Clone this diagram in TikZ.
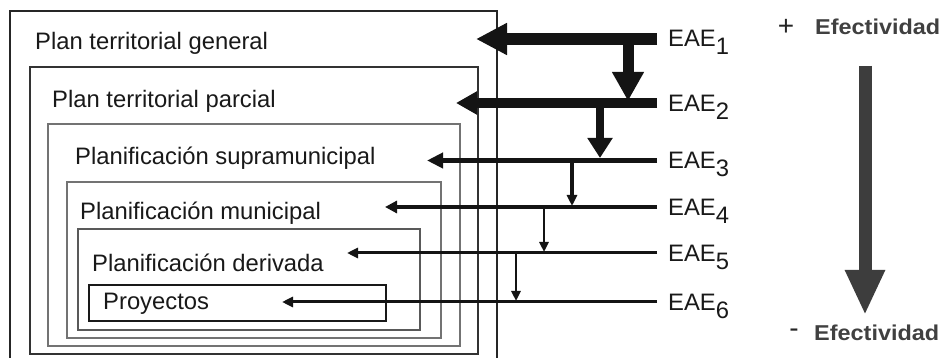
\documentclass[tikz,border=0pt]{standalone}
\usepackage{fontspec}
\setmainfont{Liberation Sans}
\usetikzlibrary{arrows.meta}
\begin{document}
\begin{tikzpicture}[x=1pt,y=-1pt,
  box/.style={draw=black!75, line width=1.4pt},
  lbl/.style={anchor=base west, inner sep=0pt, font=\fontsize{23.8}{26}\selectfont, text=black!90},
  eae/.style={anchor=base west, inner sep=0pt, font=\fontsize{23.8}{26}\selectfont, text=black!90},
  eff/.style={anchor=base west, inner sep=0pt, font=\fontsize{21.5}{24}\selectfont\bfseries, text=black!75},
  sgn/.style={anchor=center, inner sep=0pt, font=\fontsize{28}{30}\selectfont, text=black!85},
  arr/.style args={#1/#2/#3}{draw=black!92, line width=#1pt, line cap=butt,
     -{Triangle[length=#2pt,width=#3pt]}},
]
\useasboundingbox (0,0) rectangle (943,358);
\fill[white] (0,0) rectangle (943,358);
% nested boxes
\draw[box,draw=black!85] (10,358) -- (10,11) -- (497,11) -- (497,358);
\draw[box,draw=black!80] (30,67) rectangle (478,354);
\draw[box,draw=black!55,line width=1.8pt] (48,124) rectangle (460,346);
\draw[box,draw=black!55,line width=1.8pt] (67,182) rectangle (441,338);
\draw[box,draw=black!65,line width=1.6pt] (78,229) rectangle (420,330);
\draw[box,draw=black!90,line width=1.2pt] (89,285) rectangle (386,321);
% box labels
\node[lbl] (pg) at (35,50) {Plan territorial general};
\node[lbl] (pp) at (52,108) {Plan territorial parcial};
\node[lbl] (ps) at (75,165) {Planificación supramunicipal};
\node[lbl] (pm) at (80,220) {Planificación municipal};
\node[lbl] (pd) at (92,272) {Planificación derivada};
\node[lbl] (pr) at (103,309) {Proyectos};
% EAE labels
\node[eae] (e1) at (668,47) {EAE\raisebox{-8pt}{1}};
\node[eae] (e2) at (668,112) {EAE\raisebox{-8pt}{2}};
\node[eae] (e3) at (668,169) {EAE\raisebox{-8pt}{3}};
\node[eae] (e4) at (668,216) {EAE\raisebox{-8pt}{4}};
\node[eae] (e5) at (668,262) {EAE\raisebox{-8pt}{5}};
\node[eae] (e6) at (668,311) {EAE\raisebox{-8pt}{6}};
% line starts and tips
\coordinate (s1) at (657,39);   \coordinate (t1) at (476,39);
\coordinate (s2) at (657,103);  \coordinate (t2) at (456,103);
\coordinate (s3) at (657,160.5);\coordinate (t3) at (427,160.5);
\coordinate (s4) at (657,207);  \coordinate (t4) at (385,207);
\coordinate (s5) at (657,253);  \coordinate (t5) at (347,253);
\coordinate (s6) at (657,302);  \coordinate (t6) at (282,302);
% vertical connectors
\coordinate (v1a) at (628,39);  \coordinate (v1b) at (628,101);
\coordinate (v2a) at (600,103); \coordinate (v2b) at (600,158);
\coordinate (v3a) at (572,160); \coordinate (v3b) at (572,206);
\coordinate (v4a) at (544,207); \coordinate (v4b) at (544,252);
\coordinate (v5a) at (516,253); \coordinate (v5b) at (516,301);
\draw[arr=12/31/30] (s1) -- (t1);
\draw[arr=10/21/22] (s2) -- (t2);
\draw[arr=5/16/15] (s3) -- (t3);
\draw[arr=4/12/12] (s4) -- (t4);
\draw[arr=3/11/10] (s5) -- (t5);
\draw[arr=3/11/10] (s6) -- (t6);
\draw[arr=11/29/30] (v1a) -- (v1b);
\draw[arr=8/20/24] (v2a) -- (v2b);
\draw[arr=3.5/11/10] (v3a) -- (v3b);
\draw[arr=2.5/10/9] (v4a) -- (v4b);
\draw[arr=2.5/10/9] (v5a) -- (v5b);
% effectiveness scale
\node[sgn] (plus) at (786,27) {+};
\node[eff] (ef1) at (815,35) {\scalebox{1.09}[1]{Efectividad}};
\node[sgn] (minus) at (794,333) {-};
\node[eff] (ef2) at (814,340) {\scalebox{1.09}[1]{Efectividad}};
\coordinate (g1) at (865,66); \coordinate (g2) at (865,315);
\draw[draw=black!76, line width=13pt, line cap=butt,
  -{Triangle[length=45pt,width=37pt]}] (g1) -- (g2);
\end{tikzpicture}
\end{document}
